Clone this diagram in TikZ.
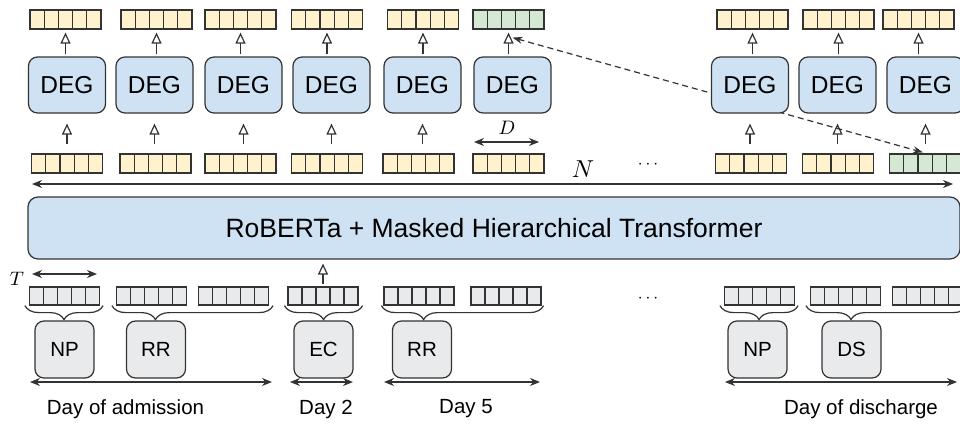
\documentclass[tikz,border=0pt]{standalone}
\usepackage{fontspec}
\setmainfont{Liberation Sans}
\usetikzlibrary{arrows.meta,calc,decorations.pathreplacing}
\definecolor{vecyellow}{HTML}{FFF2CC}
\definecolor{vecgreen}{HTML}{D5E8D4}
\definecolor{boxblue}{HTML}{CFE2F3}
\definecolor{tokgray}{HTML}{E8EAEB}
\definecolor{edge}{HTML}{333333}

\begin{document}
\begin{tikzpicture}[x=1pt,y=-1pt,line width=1.2pt,
  fivecell/.style={draw=edge,inner sep=0pt,minimum width=71pt,minimum height=19pt,
    path picture={
      \coordinate (pa) at (path picture bounding box.south west);
      \coordinate (pb) at (path picture bounding box.north east);
      \foreach \k in {1,2,3,4}{\draw[edge,line width=1.2pt] ($(pa)!\k/5!(pa-|pb)$) -- ($(pa|-pb)!\k/5!(pb)$);}
    }},
  hvec/.style={fivecell,fill=vecyellow},
  gvec/.style={fivecell,fill=vecgreen},
  tvec/.style={fivecell,fill=tokgray,minimum width=70pt,minimum height=18pt},
  degbox/.style={draw=edge,fill=boxblue,rounded corners=9pt,minimum width=77pt,minimum height=56pt,
    inner sep=0pt,font=\fontsize{24.5}{28}\selectfont},
  notebox/.style={draw=edge,fill=tokgray,rounded corners=9pt,minimum width=59pt,minimum height=57pt,
    inner sep=0pt,font=\fontsize{20.5}{24}\selectfont},
  uparrow/.style={draw=edge,-{Triangle[open,length=11pt,width=10pt]}},
  spanarrow/.style={draw=edge,{Stealth[length=10pt,width=8pt]}-{Stealth[length=10pt,width=8pt]}},
  tokbrace/.style={draw=edge,decorate,decoration={brace,mirror,amplitude=14pt,aspect=#1}},
  lbl/.style={font=\fontsize{20.5}{24}\selectfont,inner sep=0pt},
  mathlbl/.style={inner sep=0pt,font=\normalsize},
]
\useasboundingbox (0,0) rectangle (960,423);

% hidden-state vectors above the DEG blocks
\node[hvec] (tv1) at (65.5,19.5) {};
\node[hvec] (tv2) at (156.5,19.5) {};
\node[hvec] (tv3) at (240.5,19.5) {};
\node[hvec] (tv4) at (327,19.5) {};
\node[hvec] (tv5) at (423,19.5) {};
\node[gvec] (tv6) at (508.5,19.5) {};
\node[hvec] (tv7) at (752.5,19.5) {};
\node[hvec] (tv8) at (838.5,19.5) {};
\node[hvec] (tv9) at (918.5,19.5) {};

% note embeddings below the DEG blocks
\node[hvec] (lv1) at (67,163.5) {};
\node[hvec] (lv2) at (155.5,163.5) {};
\node[hvec] (lv3) at (240.5,163.5) {};
\node[hvec] (lv4) at (327,163.5) {};
\node[hvec] (lv5) at (418.5,163.5) {};
\node[hvec] (lv6) at (508.5,163.5) {};
\node[hvec] (lv7) at (751,163.5) {};
\node[hvec] (lv8) at (838,163.5) {};
\node[gvec] (lv9) at (925,163.5) {};

% dashed link between the two green vectors (drawn under the DEG blocks)
\draw[edge,dash pattern=on 6pt off 4pt,{Stealth[length=10pt,width=7pt]}-{Stealth[length=10pt,width=7pt]}]
  ($(tv6.south)+(4,8)$) -- ($(lv9.north)+(-2,-1)$);

% DEG blocks
\node[degbox] (d1) at (67,85) {DEG};
\node[degbox] (d2) at (154.5,85) {DEG};
\node[degbox] (d3) at (243.5,85) {DEG};
\node[degbox] (d4) at (331.5,85) {DEG};
\node[degbox] (d5) at (422.5,85) {DEG};
\node[degbox] (d6) at (512.5,85) {DEG};
\node[degbox] (d7) at (750,85) {DEG};
\node[degbox] (d8) at (837.5,85) {DEG};
\node[degbox] (d9) at (925.5,85) {DEG};

% DEG outputs
\foreach \i in {1,...,9}{
  \draw[uparrow,shorten <=2pt,shorten >=3pt] (tv\i.south |- d\i.north) -- (tv\i.south);
}
% DEG inputs
\foreach \i in {1,2,3,4,5,7,8,9}{
  \draw[uparrow,shorten <=9pt,shorten >=10pt] (d\i.south |- lv\i.north) -- (d\i.south);
}

% dimension D
\coordinate (dl) at (474,142);
\coordinate (dr) at (539,142);
\draw[spanarrow] (dl) -- (dr);
\node[mathlbl] (dlab) at (507,128) {\scalebox{1.95}{$D$}};

% sequence length N
\coordinate (nl) at (32,184);
\coordinate (nr) at (953,184);
\draw[spanarrow] (nl) -- (nr);
\node[mathlbl] (nlab) at (583,169) {\scalebox{2.45}{$N$}};
\node[inner sep=0pt,font=\fontsize{16}{18}\selectfont] (dotsup) at (648,165) {$\cdots$};

% encoder
\node[draw=edge,fill=boxblue,rounded corners=10pt,minimum width=932pt,minimum height=62pt,inner sep=0pt,
  font=\fontsize{26.5}{30}\selectfont] (rob) at (494,228) {RoBERTa + Masked Hierarchical Transformer};

% token length T
\coordinate (tl) at (32,274);
\coordinate (tr) at (97,274);
\draw[spanarrow] (tl) -- (tr);
\node[mathlbl] (tlab) at (17,279) {\scalebox{1.95}{$T$}};

% token chunks
\node[tvec] (gv1) at (64.5,296) {};
\node[tvec] (gv2) at (151.5,296) {};
\node[tvec] (gv3) at (233.5,296) {};
\node[tvec] (gv4) at (323,296) {};
\node[tvec] (gv5) at (419,296) {};
\node[tvec] (gv6) at (506,296) {};
\node[tvec] (gv7) at (759.5,296) {};
\node[tvec] (gv8) at (845.5,296) {};
\node[tvec] (gv9) at (927.5,296) {};
\node[inner sep=0pt,font=\fontsize{16}{18}\selectfont] (dotsdown) at (648,299) {$\cdots$};

\draw[uparrow,shorten <=2pt,shorten >=4pt] (gv4.north) -- (gv4.north |- rob.south);

% braces grouping chunks into notes
\draw[tokbrace=0.5]  ($(gv1.south west)+(-4,0)$) -- ($(gv1.south east)+(3,0)$);
\draw[tokbrace=0.27] ($(gv2.south west)+(-4,0)$) -- ($(gv3.south east)+(4,0)$);
\draw[tokbrace=0.5]  ($(gv4.south west)+(-3,0)$) -- ($(gv4.south east)+(4,0)$);
\draw[tokbrace=0.26] ($(gv5.south west)+(-2,0)$) -- ($(gv6.south east)+(2,0)$);
\draw[tokbrace=0.5]  ($(gv7.south west)+(-4,0)$) -- ($(gv7.south east)+(3,0)$);
\draw[tokbrace=0.28] ($(gv8.south west)+(-4,0)$) -- ($(gv9.south east)+(4,0)$);

% clinical notes
\node[notebox] (n1) at (64.5,349.5) {NP};
\node[notebox] (n2) at (156,349.5) {RR};
\node[notebox] (n3) at (323.5,349.5) {EC};
\node[notebox] (n4) at (422,349.5) {RR};
\node[notebox] (n5) at (757.5,349.5) {NP};
\node[notebox] (n6) at (851.5,349.5) {DS};

% days
\coordinate (a1l) at (30,382);  \coordinate (a1r) at (272,382);
\coordinate (a2l) at (290,382); \coordinate (a2r) at (353,382);
\coordinate (a3l) at (384,382); \coordinate (a3r) at (540,382);
\coordinate (a4l) at (725,382); \coordinate (a4r) at (957,382);
\draw[spanarrow] (a1l) -- (a1r);
\draw[spanarrow] (a2l) -- (a2r);
\draw[spanarrow] (a3l) -- (a3r);
\draw[spanarrow] (a4l) -- (a4r);
\node[lbl] (day1) at (125.5,409) {Day of admission};
\node[lbl] (day2) at (326,409) {Day 2};
\node[lbl] (day5) at (466,409) {Day 5};
\node[lbl] (dayd) at (861,409) {Day of discharge};
\end{tikzpicture}
\end{document}
